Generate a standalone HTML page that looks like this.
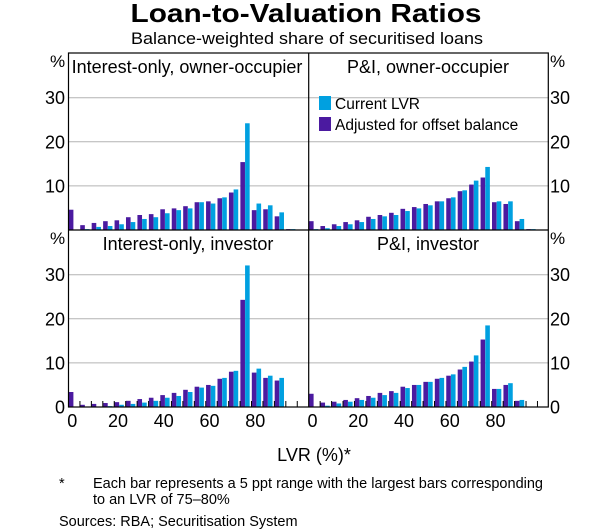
<!DOCTYPE html>
<html><head><meta charset="utf-8"><style>
html,body{margin:0;padding:0;background:#fff}
svg{display:block;font-family:"Liberation Sans",Arial,sans-serif}
</style></head><body>
<svg id="chart" width="616" height="532" viewBox="0 0 616 532">
<text x="306" y="22" text-anchor="middle" font-size="26" font-weight="bold" textLength="351" lengthAdjust="spacingAndGlyphs">Loan-to-Valuation Ratios</text>
<text x="307" y="44" text-anchor="middle" font-size="17" textLength="352" lengthAdjust="spacingAndGlyphs">Balance-weighted share of securitised loans</text>
<g id="plots"></g>
<text x="314" y="461" text-anchor="middle" font-size="18">LVR (%)*</text>
<text x="59" y="488" font-size="14.5">*</text>
<text x="93" y="488" font-size="14.5" textLength="450" lengthAdjust="spacingAndGlyphs">Each bar represents a 5 ppt range with the largest bars corresponding</text>
<text x="93" y="504" font-size="14.5">to an LVR of 75–80%</text>
<text x="59" y="526" font-size="14.5">Sources:  RBA; Securitisation System</text>
</svg>
<script>
const binLabels = ["0","20","40","60","80"];
const yTicks = [10,20,30];
const panelTitles = ["Interest-only, owner-occupier","P&I, owner-occupier","Interest-only, investor","P&I, investor"];
const ioOwnerAdjusted = [4.6,1.1,1.6,2.0,2.2,2.9,3.4,3.6,4.7,4.9,5.4,6.3,6.5,7.2,8.5,15.4,4.5,4.7,3.1,0.2];
const ioOwnerCurrent  = [0,0.2,0.7,0.9,1.3,1.8,2.5,2.9,3.8,4.5,4.9,6.3,6.0,7.4,9.2,24.2,6.0,5.6,4.0,0.2];
const piOwnerAdjusted = [2.0,0.9,1.3,1.8,2.2,3.0,3.4,3.9,4.8,5.2,5.9,6.5,7.2,8.8,10.3,11.9,6.3,5.9,2.0,0.2];
const piOwnerCurrent  = [0.2,0.4,0.9,1.3,1.8,2.5,3.1,3.4,4.3,4.9,5.6,6.5,7.4,9.0,11.2,14.3,6.5,6.5,2.5,0.2];
const ioInvAdjusted = [3.4,0.5,0.7,0.9,1.1,1.4,1.8,2.1,2.7,3.2,3.9,4.6,5.0,6.4,8.0,24.3,7.8,6.6,6.0,0];
const ioInvCurrent  = [0,0,0,0.2,0.5,0.7,1.0,1.4,2.1,2.5,3.4,4.4,4.8,6.6,8.2,32.1,8.7,7.1,6.6,0];
const piInvAdjusted = [3.0,1.0,1.2,1.6,2.0,2.5,3.2,3.6,4.6,5.0,5.7,6.4,7.1,8.5,10.3,15.3,4.1,5.0,1.4,0];
const piInvCurrent  = [0,0.3,0.8,1.2,1.6,2.1,2.7,3.2,4.3,5.0,5.7,6.6,7.4,9.1,11.7,18.5,4.1,5.4,1.6,0];

const NS="http://www.w3.org/2000/svg";
const root=document.getElementById('plots');
function mk(tag,attrs,parent){const e=document.createElementNS(NS,tag);for(const k in attrs)e.setAttribute(k,attrs[k]);(parent||root).appendChild(e);return e;}
const PURPLE="#4b1aa0", BLUE="#00a0e0";
const L=68.5, M=308.7, R=548.3, T=53, MID=230, B=407;
const binW=(M-L)/21;
const panels=[
 {x0:L,y0:T,y1:MID,a:ioOwnerAdjusted,c:ioOwnerCurrent,t:panelTitles[0],tx:187,name:'io-owner'},
 {x0:M,y0:T,y1:MID,a:piOwnerAdjusted,c:piOwnerCurrent,t:panelTitles[1],tx:428,name:'pi-owner'},
 {x0:L,y0:MID,y1:B,a:ioInvAdjusted,c:ioInvCurrent,t:panelTitles[2],tx:188,name:'io-investor'},
 {x0:M,y0:MID,y1:B,a:piInvAdjusted,c:piInvCurrent,t:panelTitles[3],tx:428,name:'pi-investor'}
];
const ppu=4.41;
panels.forEach((p,pi)=>{
  const g=mk('g',{});
  
  
  const ys=v=>p.y1-v*ppu;
  const xs=i=>p.x0+i*binW;
  yTicks.forEach(t=>{
    const ln=mk('line',{x1:p.x0,x2:p.x0+(M-L),y1:ys(t),y2:ys(t),stroke:'#b4b4b4','stroke-width':1},g);
    
    
  });
  p.a.forEach((v,i)=>{
    if(v>0){const r=mk('rect',{x:xs(i)+0.3,y:ys(v),width:4.6,height:v*ppu,fill:PURPLE},g);
    
    }
  });
  p.c.forEach((v,i)=>{
    if(v>0){const r=mk('rect',{x:xs(i)+5.0,y:ys(v),width:4.6,height:v*ppu,fill:BLUE},g);
    
    }
  });
  const tt=mk('text',{x:p.tx,y:p.y0+20,'text-anchor':'middle','font-size':18},g);
  tt.textContent=p.t;
  
  
  if(p.y1===B){
    for(let i=1;i<=20;i++){
      const tk=mk('line',{x1:xs(i),x2:xs(i),y1:B,y2:B-6,stroke:'#000','stroke-width':1},g);
      
      
    }
    binLabels.forEach((lb,k)=>{
      const tx=mk('text',{x:xs(k*4)+3.8,y:427,'text-anchor':'middle','font-size':18},g);
      tx.textContent=lb;
      
      
    });
  }
});
[[T,MID],[MID,B]].forEach(([y0,y1],row)=>{
  const ticks=row===1?[0].concat(yTicks):yTicks;
  ticks.forEach(t=>{
    const y=y1-t*ppu+6.5;
    const a=mk('text',{x:65,y:y,'text-anchor':'end','font-size':18});
    a.textContent=t;
    
    
    const b=mk('text',{x:550,y:y,'font-size':18});
    b.textContent=t;
    
    
  });
  const pl=mk('text',{x:50,y:y0+14,'font-size':17});
  pl.textContent='%';
  
  
  const pr=mk('text',{x:550,y:y0+14,'font-size':17});
  pr.textContent='%';
  
  
});
const fr=mk('rect',{x:L,y:T,width:R-L,height:B-T,fill:'none',stroke:'#000','stroke-width':1.2});


const v=mk('line',{x1:M,x2:M,y1:T,y2:B,stroke:'#000','stroke-width':1.2});


const h=mk('line',{x1:L,x2:R,y1:MID,y2:MID,stroke:'#000','stroke-width':1.2});


const lg=mk('g',{});


[[BLUE,'Current LVR',109],[PURPLE,'Adjusted for offset balance',130]].forEach(([c,t,y])=>{
  const s=mk('rect',{x:319,y:y-13,width:12,height:14,fill:c},lg);
  
  
  const tx=mk('text',{x:335,y:y,'font-size':15.5},lg);
  tx.textContent=t;
  
  
});
</script>
</body></html>
